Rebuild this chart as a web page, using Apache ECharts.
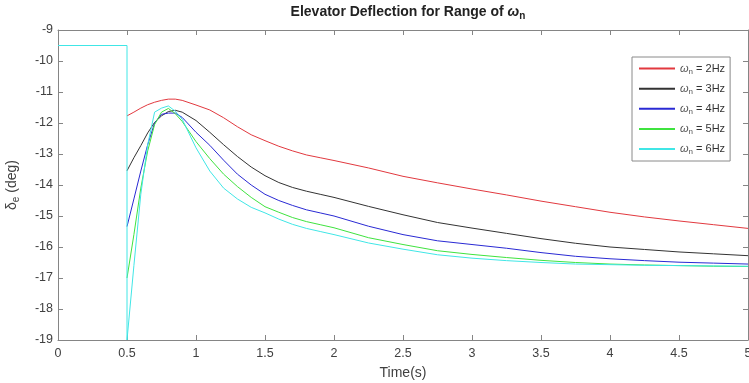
<!DOCTYPE html>
<html>
<head>
<meta charset="utf-8">
<script src="https://cdn.jsdelivr.net/npm/echarts@6/dist/echarts.min.js"></script>
<style>
  html, body { margin: 0; padding: 0; background: #fff; }
  #chart { width: 749px; height: 383px; }
</style>
</head>
<body>
<div id="chart"></div>
<script>
// Elevator deflection (deg) after the step at t = 0.5 s, one run per natural frequency
const time = [0.5, 0.55, 0.6, 0.65, 0.7, 0.75, 0.8, 0.85, 0.9, 1.0, 1.1, 1.2, 1.3, 1.4, 1.5,
              1.6, 1.7, 1.8, 1.9, 2.0, 2.25, 2.5, 2.75, 3.0, 3.25, 3.5, 3.75, 4.0, 4.25, 4.5, 4.75, 5.0];

const wn2Hz = [-11.77, -11.65, -11.52, -11.41, -11.33, -11.27, -11.23, -11.23, -11.27, -11.42, -11.58, -11.83, -12.12, -12.38, -12.57,
               -12.75, -12.90, -13.03, -13.12, -13.21, -13.45, -13.72, -13.93, -14.13, -14.32, -14.52, -14.70, -14.88, -15.03, -15.16, -15.28, -15.40];
const wn3Hz = [-13.54, -13.12, -12.73, -12.32, -11.98, -11.77, -11.63, -11.59, -11.65, -11.92, -12.30, -12.70, -13.08, -13.42, -13.70,
               -13.92, -14.08, -14.20, -14.30, -14.40, -14.69, -14.96, -15.21, -15.39, -15.56, -15.73, -15.88, -16.00, -16.08, -16.16, -16.22, -16.28];
const wn4Hz = [-15.34, -14.45, -13.55, -12.70, -12.00, -11.72, -11.68, -11.68, -11.82, -12.30, -12.72, -13.20, -13.65, -14.00, -14.30,
               -14.50, -14.66, -14.80, -14.90, -15.00, -15.33, -15.60, -15.80, -15.92, -16.04, -16.18, -16.30, -16.38, -16.44, -16.49, -16.52, -16.55];
const wn5Hz = [-17.00, -15.60, -14.10, -12.90, -12.05, -11.65, -11.53, -11.70, -11.95, -12.60, -13.15, -13.65, -14.05, -14.40, -14.70,
               -14.88, -15.05, -15.18, -15.28, -15.38, -15.70, -15.92, -16.12, -16.24, -16.34, -16.43, -16.50, -16.55, -16.58, -16.60, -16.62, -16.63];
const wn6Hz = [-19.00, -16.60, -14.30, -12.70, -11.65, -11.52, -11.45, -11.62, -11.88, -12.80, -13.55, -14.10, -14.45, -14.72, -14.90,
               -15.10, -15.27, -15.40, -15.50, -15.60, -15.87, -16.07, -16.25, -16.36, -16.44, -16.50, -16.55, -16.57, -16.59, -16.60, -16.61, -16.62];

// trim held before the step (6 Hz run)
const holdTime = [0, 0.5];
const holdValue = [-9.5, -9.5];

const freqLabels = ['2Hz', '3Hz', '4Hz', '5Hz', '6Hz'];
const xTicks = { min: 0, max: 5, step: 0.5 };
const yTicks = { min: -19, max: -9, step: 1 };

const colors = ['#e2393f', '#333333', '#2a2ad4', '#3fe33f', '#40e6e6'];
const runs = [wn2Hz, wn3Hz, wn4Hz, wn5Hz, wn6Hz];

function pairs(ts, vs) { return ts.map((t, i) => [t, vs[i]]); }

const series = runs.map((vals, k) => {
  let data = pairs(time, vals);
  if (k === 4) data = pairs(holdTime, holdValue).concat(data);
  return {
    name: freqLabels[k],
    type: 'line',
    data: data,
    symbol: 'none',
    showSymbol: false,
    lineStyle: { color: colors[k], width: 1 },
    itemStyle: { color: colors[k] },
    emphasis: { disabled: true },
    animation: false,
    z: 2 + k
  };
});

const FONT = '"Liberation Sans", Arial, Helvetica, sans-serif';
const AXIS_COLOR = '#858585';
const LABEL_COLOR = '#404040';

const chart = echarts.init(document.getElementById('chart'), null, { renderer: 'canvas' });

const baseX = {
  type: 'value', min: xTicks.min, max: xTicks.max, interval: xTicks.step,
  splitLine: { show: false },
  axisLine: { show: true, onZero: false, lineStyle: { color: AXIS_COLOR, width: 1 } },
  axisTick: { show: true, inside: true, length: 5, lineStyle: { color: AXIS_COLOR } }
};
const baseY = {
  type: 'value', min: yTicks.min, max: yTicks.max, interval: yTicks.step,
  splitLine: { show: false },
  axisLine: { show: true, onZero: false, lineStyle: { color: AXIS_COLOR, width: 1 } },
  axisTick: { show: true, inside: true, length: 5, lineStyle: { color: AXIS_COLOR } }
};

chart.setOption({
  backgroundColor: '#ffffff',
  animation: false,
  textStyle: { fontFamily: FONT },
  title: {
    text: '{b|Elevator Deflection for Range of }{w|ω}{s|n}',
    left: 403, top: -2, textAlign: 'center',
    textStyle: {
      rich: {
        b: { fontFamily: FONT, fontWeight: 'bold', fontSize: 14, color: '#222' },
        w: { fontFamily: FONT, fontStyle: 'italic', fontSize: 14, color: '#222' },
        s: { fontFamily: FONT, fontWeight: 'bold', fontSize: 10, color: '#222', padding: [8, 0, 0, 0] }
      }
    }
  },
  grid: { left: 58, right: 1, top: 30, bottom: 43, containLabel: false, outerBoundsMode: 'none' },
  xAxis: [
    Object.assign({}, baseX, {
      position: 'bottom',
      name: 'Time(s)', nameLocation: 'middle', nameGap: 26,
      nameTextStyle: { fontFamily: FONT, fontSize: 14, color: LABEL_COLOR },
      axisLabel: { show: true, color: LABEL_COLOR, fontSize: 12.5, fontFamily: FONT, margin: 7 }
    }),
    Object.assign({}, baseX, { position: 'top', axisLabel: { show: false } })
  ],
  yAxis: [
    Object.assign({}, baseY, {
      position: 'left',
      name: '{d|δ}{s|e}{d| (deg)}', nameLocation: 'middle', nameGap: 37, nameRotate: 90,
      nameTextStyle: {
        rich: {
          d: { fontFamily: FONT, fontSize: 14, color: LABEL_COLOR },
          s: { fontFamily: FONT, fontSize: 10, color: LABEL_COLOR, padding: [8, 0, 0, 0] }
        }
      },
      axisLabel: { show: true, color: LABEL_COLOR, fontSize: 12.5, fontFamily: FONT, margin: 5 }
    }),
    Object.assign({}, baseY, { position: 'right', axisLabel: { show: false } })
  ],
  legend: {
    orient: 'vertical',
    left: 632, top: 57,
    padding: [6, 5, 5, 6],
    itemWidth: 36, itemHeight: 14, itemGap: 7.5,
    backgroundColor: '#ffffff',
    borderColor: '#8a8a8a', borderWidth: 1, borderRadius: 0,
    selectedMode: false,
    itemStyle: { opacity: 0 },
    data: freqLabels,
    formatter: name => '{w|ω}{s|n}{t| = ' + name + '}',
    textStyle: {
      rich: {
        w: { fontFamily: FONT, fontStyle: 'italic', fontSize: 11, color: '#555' },
        s: { fontFamily: FONT, fontSize: 8, color: '#555', padding: [6, 0, 0, 0] },
        t: { fontFamily: FONT, fontSize: 11, color: '#333' }
      }
    }
  },
  series: series
});
</script>
</body>
</html>
